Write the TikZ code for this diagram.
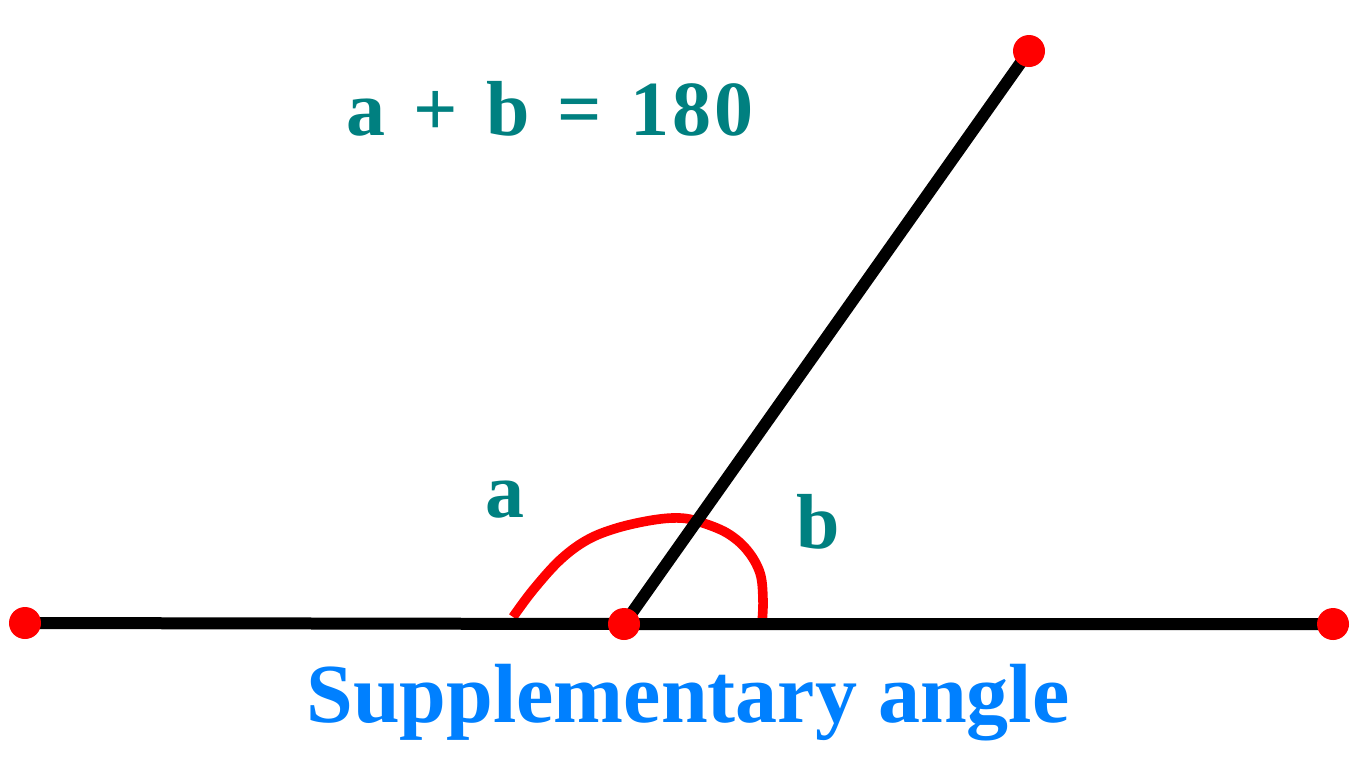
\documentclass[tikz,border=0pt]{standalone}
\usepackage{fontspec}
\setmainfont{Liberation Serif}
\definecolor{tealtxt}{HTML}{008080}
\definecolor{bluetxt}{HTML}{0080FF}
\pgfdeclarelayer{bg}
\pgfsetlayers{bg,main}
\begin{document}
\begin{tikzpicture}[x=0.5pt,y=-0.5pt,
  seg/.style={line width=6pt, black},
  dot/.style={circle, fill=red, draw=none, inner sep=0pt, minimum size=16pt},
  arcline/.style={red, line width=4.8pt, line cap=butt},
  lbl/.style={text=tealtxt, font=\bfseries\fontsize{39}{44}\selectfont, inner sep=0pt, anchor=base},
  ttl/.style={text=bluetxt, font=\bfseries\fontsize{42}{48}\selectfont, inner sep=0pt, anchor=base}]
\useasboundingbox (0,0) rectangle (1368,768);
% points
\node[dot] (L) at (25,623) {};
\node[dot] (C) at (624,624) {};
\node[dot] (R) at (1333,624) {};
\node[dot] (T) at (1029,51) {};
\begin{pgfonlayer}{bg}
  \fill[white] (0,0) rectangle (1368,768);
  \draw[arcline] plot[smooth, tension=0.6] coordinates {(513,617) (533,590) (560,560) (587,540) (617,528) (653,520) (680,518) (700,522) (727,533) (747,550) (760,573) (763,600) (762,623)};
  \draw[seg] (L.center) -- (C.center) -- (R.center);
  \draw[seg] (C.center) -- (T.center);
\end{pgfonlayer}
% labels
\node[lbl] (eq) at (550,135) {a\hspace{0.36em}+\hspace{0.36em}b\hspace{0.36em}=\hspace{0.36em}1\kern1.5pt8\kern1.5pt0};
\node[lbl] (la) at (505,517) {a};
\node[lbl] (lb) at (818,548) {b};
\node[ttl] (cap) at (688,722) {Supplementary angle};
\end{tikzpicture}
\end{document}
